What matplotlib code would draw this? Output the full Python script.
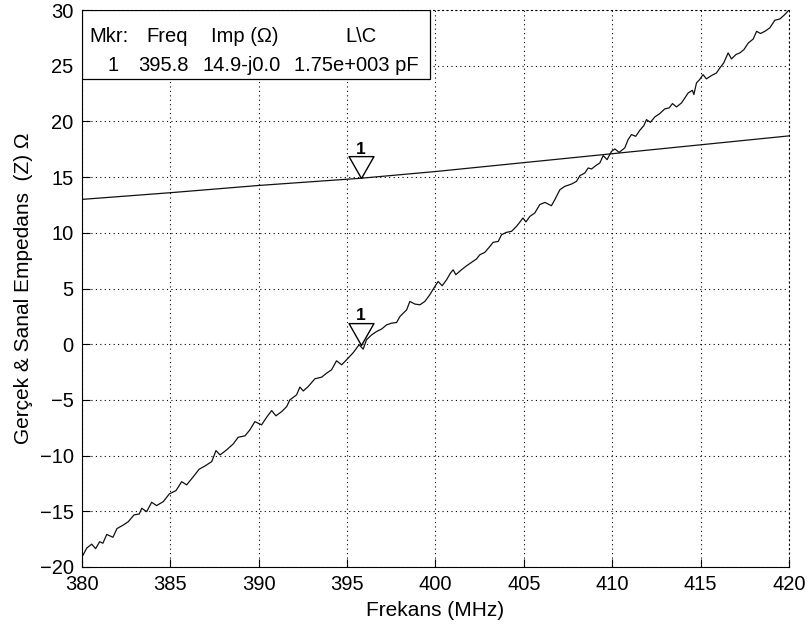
import matplotlib
matplotlib.use('Agg')
import matplotlib.pyplot as plt
from matplotlib.patches import Rectangle
import numpy as np

# real part of the impedance (smooth) and the measured imaginary part (noisy)
freq_real = [380, 385, 390, 395.8, 400, 405, 410, 415, 420]
z_real = [13.0, 13.6, 14.25, 14.9, 15.5, 16.3, 17.1, 17.9, 18.7]

freq_imag = [
    380.0, 380.27, 380.55, 380.77, 381.0, 381.18, 381.4, 381.75, 381.98, 382.34,
    382.62, 382.94, 383.24, 383.38, 383.66, 383.94, 384.22, 384.6, 384.94, 385.32,
    385.64, 385.92, 386.3, 386.63, 386.96, 387.34, 387.58, 387.81, 388.18, 388.56,
    388.84, 389.22, 389.5, 389.78, 390.16, 390.45, 390.73, 390.97, 391.3, 391.58,
    391.76, 392.14, 392.33, 392.52, 392.8, 393.18, 393.56, 393.84, 394.12, 394.4,
    394.69, 394.97, 395.35, 395.68, 395.91, 396.1, 396.39, 396.67, 396.95, 397.24,
    397.52, 397.8, 397.99, 398.37, 398.55, 398.84, 399.12, 399.4, 399.68, 399.91,
    400.15, 400.38, 400.63, 400.85, 401.0, 401.15, 401.47, 401.76, 402.04, 402.32,
    402.51, 402.79, 403.08, 403.26, 403.55, 403.74, 404.02, 404.3, 404.58, 404.77,
    404.95, 405.12, 405.34, 405.62, 405.9, 406.19, 406.56, 406.75, 407.04, 407.32,
    407.7, 407.98, 408.17, 408.45, 408.64, 408.83, 409.07, 409.3, 409.49, 409.71,
    409.96, 410.15, 410.39, 410.71, 410.9, 411.09, 411.33, 411.56, 411.79, 411.94,
    412.16, 412.41, 412.69, 412.97, 413.22, 413.41, 413.64, 413.92, 414.11, 414.3,
    414.54, 414.62, 414.77, 414.95, 415.14, 415.33, 415.62, 415.9, 416.09, 416.31,
    416.56, 416.75, 417.0, 417.22, 417.45, 417.7, 417.98, 418.17, 418.39, 418.64,
    418.92, 419.2, 419.49, 419.77, 420.0]
z_imag = [
    -19.1, -18.3, -17.95, -18.35, -17.73, -17.87, -17.08, -17.33, -16.55, -16.23,
    -15.93, -15.33, -15.24, -14.73, -15.03, -14.19, -14.49, -14.13, -13.44, -13.14,
    -12.34, -12.63, -11.89, -11.22, -10.93, -10.54, -9.55, -9.94, -9.49, -8.95,
    -8.35, -8.23, -7.69, -6.95, -7.24, -6.55, -5.96, -6.43, -6.05, -5.6,
    -5.0, -4.55, -3.85, -4.2, -3.8, -3.1, -2.96, -2.6, -2.3, -1.49,
    -1.85, -1.4, -0.75, -0.05, -0.44, 0.4, 0.84, 1.14, 1.36, 1.74,
    1.89, 1.95, 2.49, 3.09, 3.84, 3.6, 3.54, 3.84, 4.44, 5.04,
    5.63, 5.25, 5.79, 6.39, 6.68, 6.24, 6.68, 7.04, 7.34, 7.65,
    8.03, 8.24, 8.78, 9.14, 9.23, 9.83, 10.04, 10.13, 10.57, 10.95,
    11.33, 10.98, 11.47, 11.78, 12.53, 12.73, 12.43, 12.97, 13.87, 14.17,
    14.38, 14.62, 15.13, 15.37, 15.82, 15.73, 16.03, 16.27, 16.93, 16.57,
    17.31, 17.53, 17.22, 17.62, 18.37, 18.82, 18.66, 19.2, 19.62, 20.16,
    19.92, 20.4, 20.7, 21.12, 21.21, 21.6, 21.3, 21.66, 22.11, 22.56,
    22.79, 22.41, 23.46, 23.76, 24.2, 23.82, 24.12, 24.35, 24.8, 25.25,
    26.15, 25.61, 26.0, 26.15, 26.44, 27.04, 27.4, 28.09, 27.89, 28.09,
    28.4, 29.08, 29.2, 29.6, 30.0]

# marker 1 readout
mkr_freq = 395.8
mkr_real = 14.9
mkr_imag = -0.04
mkr_lc = '1.75e+003 pF'

x_ticks = [380, 385, 390, 395, 400, 405, 410, 415, 420]
y_ticks = [-20, -15, -10, -5, 0, 5, 10, 15, 20, 25, 30]

plt.rcParams['font.family'] = ['Liberation Sans', 'DejaVu Sans']
plt.rcParams['font.size'] = 14.5

fig = plt.figure(figsize=(8.12, 6.34), dpi=100)
ax = fig.add_axes([0.101, 0.1057, 0.8706, 0.8785])

ax.plot(freq_real, z_real, color='#111111', linewidth=0.9)
ax.plot(freq_imag, z_imag, color='#111111', linewidth=0.9)

# downward triangle markers with the tip on the trace
tri = [(0, 0), (-0.57, 1), (0.57, 1), (0, 0)]
for y in (mkr_real, mkr_imag):
    ax.plot([mkr_freq], [y], marker=tri, markersize=31.5, markerfacecolor='none',
            markeredgecolor='k', markeredgewidth=1.0, linestyle='none')
    ax.annotate('1', (mkr_freq, y), xytext=(0, 21), textcoords='offset points',
                ha='center', va='center', fontsize=12.5, fontweight='bold')

ax.set_xlim(380, 420)
ax.set_ylim(-20, 30)
ax.set_xticks(x_ticks)
ax.set_yticks(y_ticks)
ax.grid(True, color='k', linestyle=(0, (1, 3)), linewidth=0.8)
ax.tick_params(direction='in', length=6, width=0.8, top=False, right=False, pad=6)
for side in ('top', 'right'):
    ax.spines[side].set_linestyle((0, (1, 3)))
    ax.spines[side].set_linewidth(0.8)

ax.set_xlabel('Frekans (MHz)', labelpad=5, fontsize=15)
ax.set_ylabel('Gerçek & Sanal Empedans  (Z) Ω', labelpad=5, fontsize=15)

# marker table in the upper left corner
ax.add_patch(Rectangle((0, 0.876), 0.492, 0.124, transform=ax.transAxes,
                       facecolor='white', edgecolor='k', linewidth=0.9, zorder=5))
row1 = 0.952
row2 = 0.901
cols1 = [(0.010, 'Mkr:'), (0.091, 'Freq'), (0.182, 'Imp (Ω)'), (0.372, 'L\\C')]
cols2 = [(0.036, '1'), (0.080, '{:.1f}'.format(mkr_freq)),
         (0.170, '{:.1f}-j{:.1f}'.format(mkr_real, abs(mkr_imag))), (0.300, mkr_lc)]
for x, s in cols1:
    ax.text(x, row1, s, transform=ax.transAxes, ha='left', va='center', zorder=6)
for x, s in cols2:
    ax.text(x, row2, s, transform=ax.transAxes, ha='left', va='center', zorder=6)

fig.savefig('out.png', dpi=100)
